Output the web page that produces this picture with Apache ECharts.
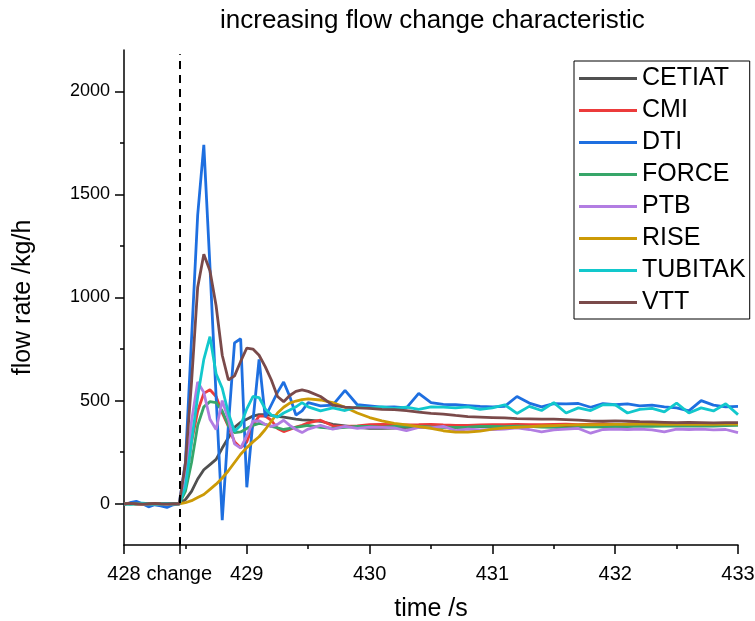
<!DOCTYPE html>
<html>
<head>
<meta charset="utf-8">
<title>increasing flow change characteristic</title>
<script src="https://cdn.jsdelivr.net/npm/echarts@6.0.0/dist/echarts.min.js"></script>
<style>
  html, body { margin: 0; padding: 0; background: #fff; }
  #chart { width: 755px; height: 621px; }
</style>
</head>
<body>
<div id="chart"></div>
<script>
// time grid: 0.05 s around the step, 0.1 s afterwards
const times = [
  428.00, 428.05, 428.10, 428.15, 428.20, 428.25, 428.30, 428.35, 428.40,
  428.45, 428.50, 428.55, 428.60, 428.65, 428.70, 428.75, 428.80, 428.85, 428.90, 428.95,
  429.00, 429.05, 429.10, 429.15, 429.20, 429.25, 429.30, 429.35, 429.40, 429.45, 429.50,
  429.6, 429.7, 429.8, 429.9, 430.0, 430.1, 430.2, 430.3, 430.4, 430.5,
  430.6, 430.7, 430.8, 430.9, 431.0, 431.1, 431.2, 431.3, 431.4, 431.5,
  431.6, 431.7, 431.8, 431.9, 432.0, 432.1, 432.2, 432.3, 432.4, 432.5,
  432.6, 432.7, 432.8, 432.9, 433.0
];

const changeTime = 428.45;
const changeLineTop = 2180;

const labNames = ['CETIAT', 'CMI', 'DTI', 'FORCE', 'PTB', 'RISE', 'TUBITAK', 'VTT'];

const cetiat = [
  0, 2, 0, -2, 0, 1, 0, -1, 0,
  0, 20, 60, 120, 165, 190, 215, 270, 320, 370, 395, 410, 425, 432, 432, 428, 424, 420, 415, 410, 407, 405,
  400, 385, 378, 370, 366, 365, 367, 370, 370, 372, 372, 370, 372, 374, 375, 376, 378, 376, 378, 380,
  378, 380, 382, 380, 382, 384, 382, 384, 386, 384, 386, 388, 386, 388, 390
];
const cmi = [
  0, 3, 0, -3, 0, 2, 0, -2, 0,
  0, 80, 300, 450, 535, 553, 520, 440, 375, 300, 272, 300, 380, 425, 425, 405, 365, 350, 360, 372, 380, 392,
  405, 378, 375, 378, 383, 385, 383, 382, 383, 385, 382, 380, 380, 382, 383, 383, 385, 384, 383, 385,
  386, 384, 386, 387, 385, 386, 388, 387, 386, 388, 389, 387, 388, 390, 388
];
const dti = [
  -5, 5, 12, 0, -15, -5, -10, -18, -5,
  0, 200, 800, 1400, 1740, 1150, 520, -80, 380, 780, 800, 80, 400, 700, 420, 480, 540, 590, 520, 430, 450, 490,
  475, 478, 550, 480, 475, 468, 470, 465, 535, 490, 482, 480, 476, 472, 470, 472, 520, 488, 470, 485,
  484, 486, 468, 485, 480, 484, 475, 478, 470, 465, 450, 500, 478, 470, 472
];
const force = [
  0, 1, 0, -1, 0, 1, 0, 0, 0,
  0, 60, 200, 380, 470, 495, 490, 450, 380, 345, 348, 365, 380, 390, 385, 375, 368, 360, 365, 370, 375, 380,
  370, 365, 370, 375, 375, 372, 375, 375, 375, 373, 372, 370, 372, 375, 375, 374, 376, 375, 372, 370,
  365, 372, 374, 372, 375, 374, 376, 375, 377, 378, 376, 378, 377, 379, 380
];
const ptb = [
  0, 2, 0, -2, 0, 1, 0, -1, 0,
  0, 100, 400, 590, 540, 410, 360, 500, 410, 290, 270, 330, 400, 402, 385, 375, 385, 405, 380, 360, 345, 362,
  380, 362, 375, 365, 372, 370, 368, 355, 370, 368, 375, 355, 362, 358, 360, 362, 368, 360, 348, 358,
  362, 365, 342, 360, 362, 360, 362, 358, 348, 362, 360, 362, 358, 360, 345
];
const rise = [
  0, 0, 0, 0, 0, 0, 0, 0, 0,
  0, 5, 15, 30, 45, 70, 95, 125, 160, 200, 240, 272, 300, 325, 360, 400, 440, 468, 488, 498, 505, 508,
  503, 490, 468, 440, 418, 402, 390, 382, 374, 366, 354, 347, 347, 352, 362, 368, 371, 374, 377, 379,
  381, 382, 383, 384, 385, 385, 386, 386, 385, 386, 385, 386, 385, 386, 386
];
const tubitak = [
  0, -3, 0, 3, 0, -2, 0, 2, 0,
  0, 80, 300, 520, 700, 810, 630, 560, 440, 350, 380, 460, 520, 515, 460, 430, 420, 440, 455, 470, 490, 470,
  450, 465, 452, 470, 465, 470, 462, 468, 458, 470, 468, 465, 470, 458, 465, 480, 438, 472, 452, 490,
  440, 465, 452, 480, 480, 440, 458, 462, 445, 488, 440, 465, 450, 485, 432
];
const vtt = [
  0, 2, 0, -2, 0, 2, 0, -1, 0,
  0, 195, 590, 1050, 1210, 1130, 960, 720, 600, 620, 690, 755, 750, 720, 665, 600, 520, 495, 525, 545, 552, 545,
  520, 478, 468, 465, 462, 458, 456, 452, 444, 438, 435, 428, 422, 420, 418, 416, 413, 412, 410, 410,
  408, 405, 402, 400, 402, 400, 398, 397, 395, 393, 394, 393, 392, 393, 393
];

const labValues = [cetiat, cmi, dti, force, ptb, rise, tubitak, vtt];
const labColors = ['#505050', '#ec3b3b', '#1e6fe0', '#37a669', '#b27de2', '#cc9a06', '#12c8cc', '#7a4a4a'];

const xTicks = [428, 429, 430, 431, 432, 433];
const xMinorTicks = [428.5, 429.5, 430.5, 431.5, 432.5];
const yTicks = [0, 500, 1000, 1500, 2000];
const yMinorTicks = [250, 750, 1250, 1750];

const font = 'Liberation Sans, Arial, sans-serif';

const chart = echarts.init(document.getElementById('chart'), null, { renderer: 'canvas' });

const series = labNames.map((name, i) => ({
  name: name,
  type: 'line',
  xAxisIndex: 0,
  yAxisIndex: 0,
  data: times.map((t, k) => [t, labValues[i][k]]),
  showSymbol: false,
  symbol: 'none',
  color: labColors[i],
  lineStyle: { width: 2.8, color: labColors[i] },
  animation: false
}));

// dashed marker where the flow change starts
series[0].markLine = {
  silent: true,
  symbol: 'none',
  label: { show: false },
  lineStyle: { color: '#000', type: [8, 6], width: 2 },
  data: [[{ coord: [changeTime, -200] }, { coord: [changeTime, changeLineTop] }]]
};

const tickLine = { color: '#000', width: 1.5 };

const option = {
  backgroundColor: '#fff',
  animation: false,
  textStyle: { fontFamily: font },
  title: {
    text: 'increasing flow change characteristic',
    left: 220,
    top: 8,
    padding: 0,
    textStyle: { fontFamily: font, fontSize: 26, fontWeight: 'normal', color: '#000' }
  },
  grid: { left: 124, right: 17, top: 50, bottom: 76, containLabel: false, outerBoundsMode: 'none' },
  legend: {
    orient: 'vertical',
    left: 574,
    top: 61,
    padding: [5, 4, 4, 5],
    itemGap: 7,
    itemWidth: 58,
    itemHeight: 3,
    icon: 'rect',
    borderColor: '#000',
    borderWidth: 1,
    textStyle: { fontFamily: font, fontSize: 25, lineHeight: 25, color: '#000' },
    data: labNames
  },
  xAxis: [
    {
      type: 'value',
      min: 428,
      max: 433,
      position: 'bottom',
      splitLine: { show: false },
      axisLine: { show: true, onZero: false, lineStyle: tickLine },
      name: 'time /s',
      nameLocation: 'middle',
      nameGap: 52,
      nameTextStyle: { fontFamily: font, fontSize: 25, color: '#000' },
      axisTick: { show: true, inside: false, length: 9, customValues: xTicks, lineStyle: tickLine },
      axisLabel: { customValues: xTicks, margin: 19, fontSize: 20, color: '#000', fontFamily: font }
    },
    {
      type: 'value',
      min: 428,
      max: 433,
      position: 'bottom',
      splitLine: { show: false },
      axisLine: { show: false, onZero: false },
      axisTick: { show: true, inside: false, length: 4, customValues: xMinorTicks, lineStyle: tickLine },
      axisLabel: { show: false }
    },
    {
      type: 'value',
      min: 428,
      max: 433,
      position: 'bottom',
      splitLine: { show: false },
      axisLine: { show: false, onZero: false },
      axisTick: { show: true, inside: false, length: 9, customValues: [changeTime], lineStyle: tickLine },
      axisLabel: {
        customValues: [changeTime],
        formatter: () => 'change',
        margin: 19,
        fontSize: 20,
        color: '#000',
        fontFamily: font
      }
    }
  ],
  yAxis: [
    {
      type: 'value',
      min: -200,
      max: 2200,
      position: 'left',
      splitLine: { show: false },
      axisLine: { show: true, onZero: false, lineStyle: tickLine },
      name: 'flow rate /kg/h',
      nameLocation: 'middle',
      nameGap: 88,
      nameTextStyle: { fontFamily: font, fontSize: 25, color: '#000' },
      axisTick: { show: true, inside: false, length: 9, customValues: yTicks, lineStyle: tickLine },
      axisLabel: {
        customValues: yTicks,
        formatter: (v) => String(v),
        margin: 14,
        fontSize: 18,
        color: '#000',
        fontFamily: font
      }
    },
    {
      type: 'value',
      min: -200,
      max: 2200,
      position: 'left',
      splitLine: { show: false },
      axisLine: { show: false, onZero: false },
      axisTick: { show: true, inside: false, length: 4, customValues: yMinorTicks, lineStyle: tickLine },
      axisLabel: { show: false }
    }
  ],
  series: series
};

chart.setOption(option);
</script>
</body>
</html>
